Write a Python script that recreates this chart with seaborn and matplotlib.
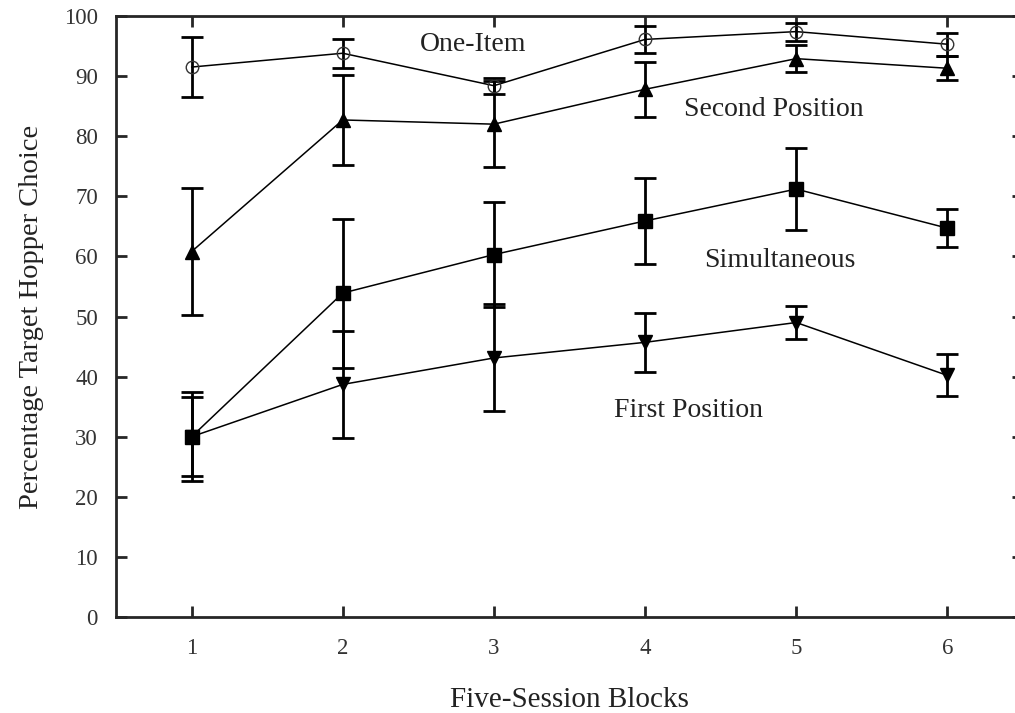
import pandas as pd
import matplotlib.pyplot as plt
import seaborn as sns

# data
blocks = [1, 2, 3, 4, 5, 6]
one_item = [91.5, 93.8, 88.4, 96.1, 97.4, 95.3]
one_item_err = [5.0, 2.4, 1.3, 2.3, 1.5, 1.9]
second_pos = [60.8, 82.7, 82.0, 87.8, 92.9, 91.3]
second_pos_err = [10.6, 7.5, 7.2, 4.6, 2.2, 2.0]
simultaneous = [30.0, 53.9, 60.3, 65.9, 71.2, 64.7]
simultaneous_err = [7.4, 12.4, 8.7, 7.1, 6.8, 3.2]
first_pos = [30.0, 38.7, 43.1, 45.7, 49.0, 40.2]
first_pos_err = [6.6, 8.9, 8.9, 4.9, 2.7, 3.5]

sns.set_style("ticks")
plt.rcParams["font.family"] = ["Liberation Serif", "DejaVu Serif"]

fig = plt.figure(figsize=(10.15, 7.13), dpi=100)
ax = fig.add_axes([0.1143, 0.1346, 0.8935, 0.843])

series = [
    ("One-Item", one_item, one_item_err, "o", "none", 9),
    ("Second Position", second_pos, second_pos_err, "^", "black", 10),
    ("Simultaneous", simultaneous, simultaneous_err, "s", "black", 10),
    ("First Position", first_pos, first_pos_err, "v", "black", 10),
]

for name, vals, errs, mk, face, ms in series:
    df = pd.DataFrame({"block": blocks, "pct": vals})
    ax.errorbar(blocks, vals, yerr=errs, fmt="none", ecolor="black",
                elinewidth=2, capsize=8, capthick=2, zorder=2)
    sns.lineplot(data=df, x="block", y="pct", ax=ax, color="black",
                 linewidth=1.1, marker=mk, markersize=ms,
                 markerfacecolor=face, markeredgecolor="#333333" if face == "none" else "black",
                 markeredgewidth=1.0, zorder=3)

# series labels
lab_kw = dict(fontsize=20, ha="center", va="center", color="#222222")
ax.text(2.86, 95.2, "One-Item", **lab_kw)
ax.text(4.85, 84.4, "Second Position", **lab_kw)
ax.text(4.89, 59.4, "Simultaneous", **lab_kw)
ax.text(4.29, 34.4, "First Position", **lab_kw)

ax.set_xlim(0.5, 6.5)
ax.set_ylim(0, 100)
ax.set_xticks(blocks)
ax.set_yticks(range(0, 101, 10))
ax.tick_params(direction="in", length=8, width=2, top=True, right=True,
               labelsize=16.5, labelcolor="#333333")
ax.tick_params(axis="x", pad=15)
ax.tick_params(axis="y", pad=13)
for sp in ax.spines.values():
    sp.set_linewidth(2)
    sp.set_visible(True)

ax.set_xlabel("Five-Session Blocks", fontsize=21, color="#222222", labelpad=20)
ax.set_ylabel("Percentage Target Hopper Choice", fontsize=20.5, color="#222222", labelpad=14.5)

fig.savefig("out.png", dpi=100)
